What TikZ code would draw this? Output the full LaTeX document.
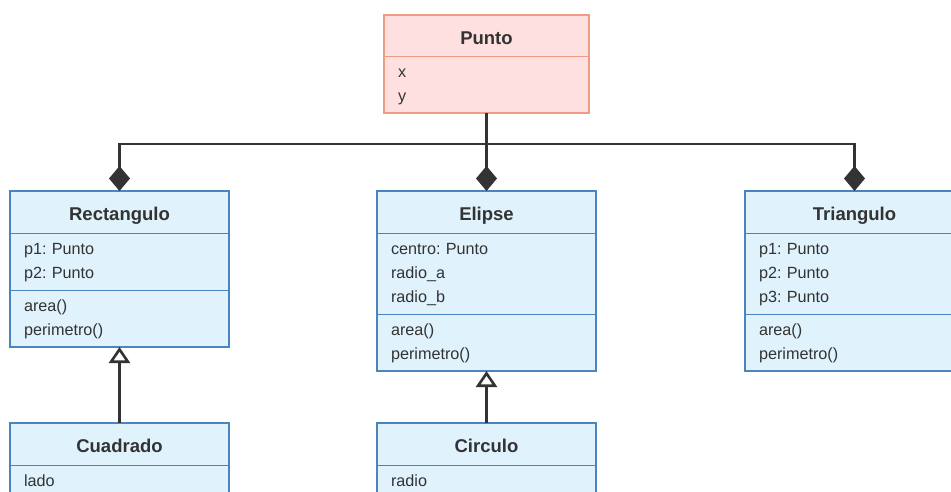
\documentclass[tikz,border=0pt]{standalone}
\usepackage{fontspec}
\setmainfont{Liberation Sans}
\usetikzlibrary{positioning,arrows.meta}
\frenchspacing

\definecolor{ink}{HTML}{333333}
\definecolor{clsfill}{HTML}{E0F2FC}
\definecolor{clsline}{HTML}{4A85BF}
\definecolor{ptfill}{HTML}{FFE0E0}
\definecolor{ptline}{HTML}{EE9C84}

\tikzset{
  head/.style={fill=clsfill,draw=clsline,line width=1pt,outer sep=0pt,minimum width=219pt,minimum height=42pt,
    inner sep=0pt,text height=17.4pt,text depth=0pt,text=ink,font=\fontsize{18.5}{22}\selectfont\bfseries},
  part/.style={fill=clsfill,draw=clsline,line width=1pt,outer sep=0pt,text width=191pt,inner xsep=14pt,inner ysep=4.5pt,
    align=left,text=ink,font=\fontsize{16.2}{24}\selectfont,
    execute at begin node=\strut,execute at end node=\strut},
  pink/.style={fill=ptfill,draw=ptline},
  frame/.style={draw=clsline,line width=2pt},
  compose/.style={draw=ink,line width=2.6pt,-{Diamond[length=25pt,width=21pt]}},
  inherit/.style={draw=ink,line width=2.6pt,-{Triangle[open,fill=white,length=16pt,width=21pt]}}
}

\begin{document}
\begin{tikzpicture}[x=1pt,y=1pt]
    \useasboundingbox (0,0) rectangle (951,-491);

    % Punto
    \node[head,pink,minimum width=205pt,minimum height=41pt] (punto) at (486.5,-35.5) {Punto};
    \node[part,pink,text width=177pt,below=0pt of punto] (punto-a) {x\\y};
    \draw[frame,draw=ptline] (punto.north west) rectangle (punto-a.south east);

    % Rectangulo
    \node[head] (rect) at (119.5,-212) {Rectangulo};
    \node[part,below=0pt of rect] (rect-a) {p1: Punto\\p2: Punto};
    \node[part,below=0pt of rect-a] (rect-m) {area()\\perimetro()};
    \draw[frame] (rect.north west) rectangle (rect-m.south east);

    % Elipse
    \node[head] (elip) at (486.5,-212) {Elipse};
    \node[part,below=0pt of elip] (elip-a) {centro: Punto\\radio\_a\\radio\_b};
    \node[part,below=0pt of elip-a] (elip-m) {area()\\perimetro()};
    \draw[frame] (elip.north west) rectangle (elip-m.south east);

    % Triangulo
    \node[head] (tri) at (854.5,-212) {Triangulo};
    \node[part,below=0pt of tri] (tri-a) {p1: Punto\\p2: Punto\\p3: Punto};
    \node[part,below=0pt of tri-a] (tri-m) {area()\\perimetro()};
    \draw[frame] (tri.north west) rectangle (tri-m.south east);

    % Cuadrado, Circulo
    \node[head] (cuad) at (119.5,-444) {Cuadrado};
    \node[part,below=0pt of cuad] (cuad-a) {lado};
    \draw[frame] (cuad.north west) rectangle (cuad-a.south east);

    \node[head] (circ) at (486.5,-444) {Circulo};
    \node[part,below=0pt of circ] (circ-a) {radio};
    \draw[frame] (circ.north west) rectangle (circ-a.south east);

    % composition
    \coordinate (bus) at (486.5,-144);
    \draw[compose] (punto-a.south) -- (bus) -| (rect.north);
    \draw[compose] (punto-a.south) -- (elip.north);
    \draw[compose] (punto-a.south) -- (bus) -| (tri.north);

    % inheritance
    \draw[inherit] (cuad.north) -- (rect-m.south);
    \draw[inherit] (circ.north) -- (elip-m.south);

\end{tikzpicture}
\end{document}
